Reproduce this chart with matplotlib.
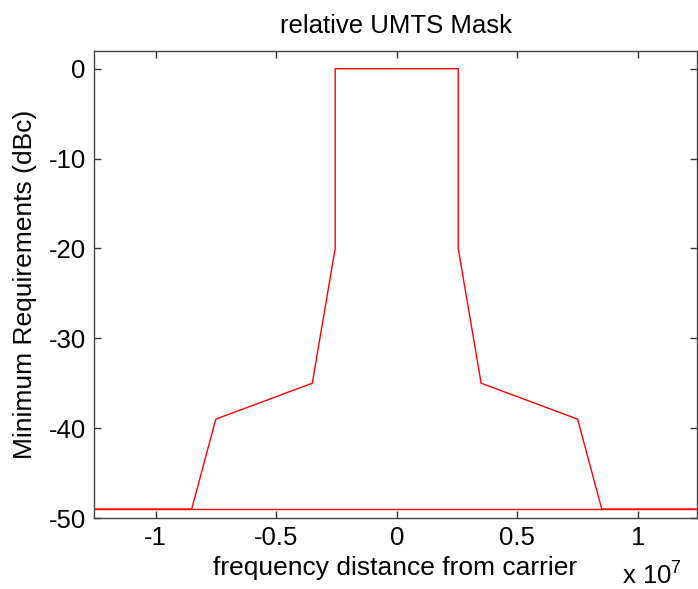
import numpy as np
import matplotlib
matplotlib.use('Agg')
import matplotlib.pyplot as plt

plt.rcParams['font.family'] = ['Liberation Sans', 'DejaVu Sans']
plt.rcParams['mathtext.fontset'] = 'custom'
plt.rcParams['mathtext.rm'] = 'Liberation Sans'
plt.rcParams['axes.unicode_minus'] = False

# mask, left half (Hz, dBc), starting from just left of the carrier
freq_left = [-0.03e6, -2.55e6, -2.55e6, -3.5e6, -7.5e6, -8.5e6, -12.5e6]
mask_left = [0, 0, -20, -35, -39, -49, -49]
# mask, right half
freq_right = [0.03e6, 2.55e6, 2.55e6, 3.5e6, 7.5e6, 8.5e6, 12.5e6]
mask_right = [0, 0, -20, -35, -39, -49, -49]
# floor across the whole span
freq_floor = [-12.5e6, 12.5e6]
floor_level = [-49, -49]

xticks = [-1e7, -0.5e7, 0, 0.5e7, 1e7]
xticklabels = ['-1', '-0.5', '0', '0.5', '1']
yticks = [0, -10, -20, -30, -40, -50]

fig = plt.figure(figsize=(6.98, 5.89), dpi=100)
ax = fig.add_axes([94/698, 1 - 518/589, 603/698, (518 - 50.7)/589])

red = '#ff0000'
for fx, my in [(freq_left, mask_left), (freq_right, mask_right),
               (freq_floor, floor_level)]:
    ax.plot(fx, my, color=red, lw=1.0)

ax.set_xlim(-1.255e7, 1.245e7)
ax.set_ylim(-50, 2)
ax.set_xticks(xticks)
ax.set_xticklabels(xticklabels)
ax.set_yticks(yticks)

ax.tick_params(direction='in', length=5, width=1, color='#333333',
               top=True, right=True, labelsize=18.5, pad=6)
for s in ax.spines.values():
    s.set_color('#444444')
    s.set_linewidth(1)

ax.set_title('relative UMTS Mask', fontsize=18.5, pad=13)
ax.set_xlabel('frequency distance from carrier', fontsize=19, labelpad=4)
ax.set_ylabel('Minimum Requirements (dBc)', fontsize=19, labelpad=8)
fig.text(622/698, 1 - 575/589, r'x 10$^{7}$', fontsize=18.5, va='center', ha='left')

fig.savefig('out.png', dpi=100)
